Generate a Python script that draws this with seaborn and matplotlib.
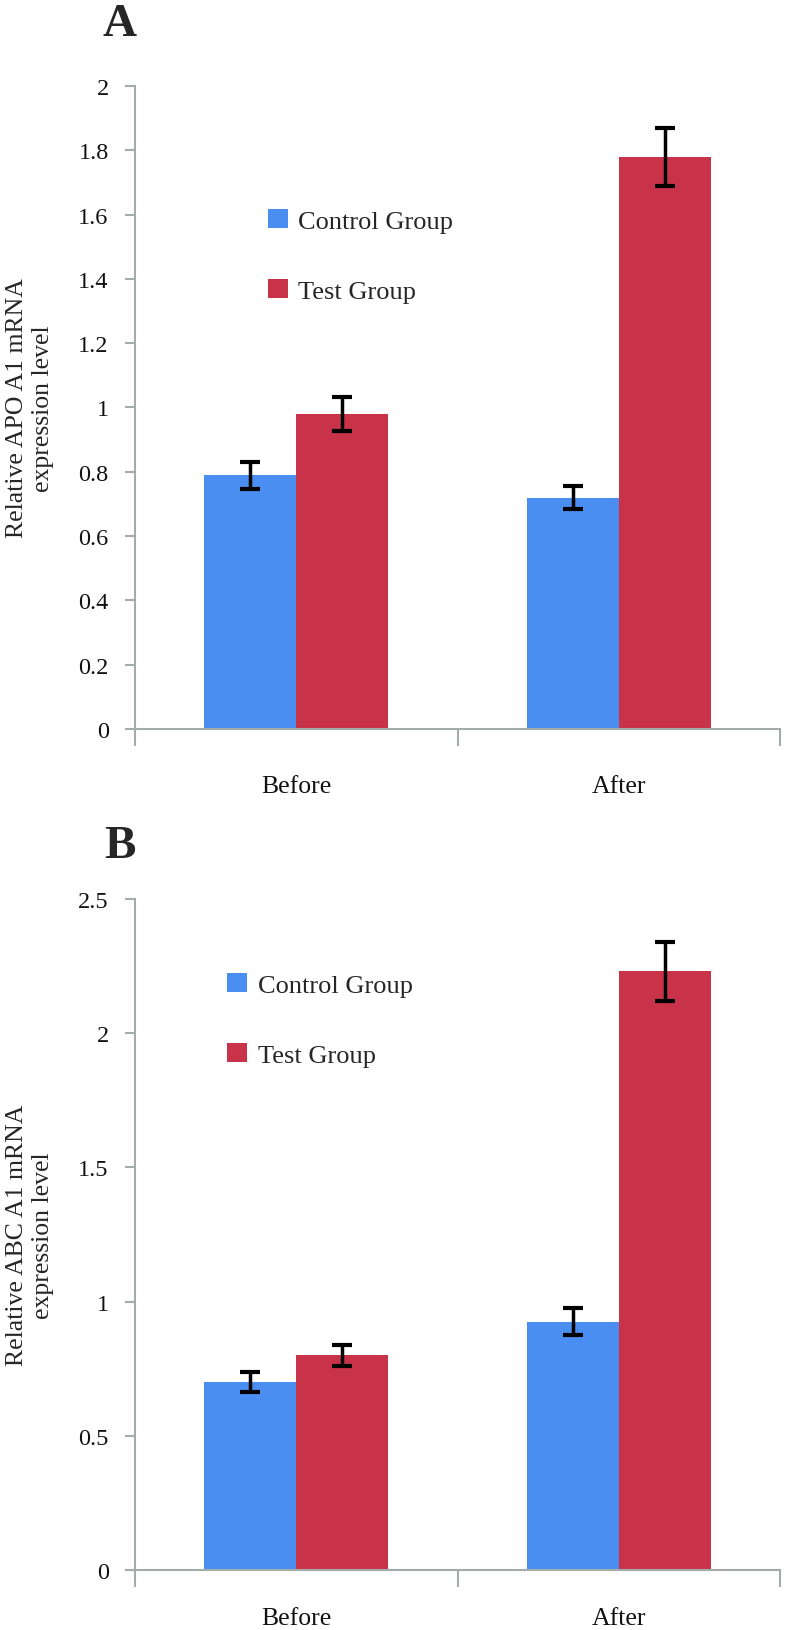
import pandas as pd
import numpy as np
import matplotlib
matplotlib.use('Agg')
import matplotlib.pyplot as plt
import seaborn as sns
from matplotlib.ticker import FixedLocator

# values
times = ['Before', 'After']
groups = ['Control Group', 'Test Group']

apo_control = [0.79, 0.72]
apo_test = [0.98, 1.78]
apo_control_err = [0.042, 0.037]
apo_test_err = [0.052, 0.09]

abc_control = [0.70, 0.925]
abc_test = [0.80, 2.23]
abc_control_err = [0.037, 0.05]
abc_test_err = [0.04, 0.11]

sns.set_style('white')
plt.rcParams['font.family'] = ['Liberation Serif', 'DejaVu Serif']

colors = ['#4A8EF2', '#C8334A']
axis_grey = '#A3ABAB'


def make_frame(control, test):
    return pd.DataFrame({
        'Time': times * 2,
        'Group': [groups[0]] * 2 + [groups[1]] * 2,
        'Value': list(control) + list(test),
    })


def draw_panel(ax, control, test, control_err, test_err, ymax, ystep,
               ylabel, legend_anchor, label_pad, legend_gap):
    data = make_frame(control, test)
    sns.barplot(data=data, x='Time', y='Value', hue='Group', order=times,
                hue_order=groups, palette=colors, width=0.57, gap=0,
                errorbar=None, saturation=1, linewidth=0, ax=ax)

    # error bars at the bar centres seaborn placed
    for container, errs in zip(ax.containers, [control_err, test_err]):
        xs = [p.get_x() + p.get_width() / 2 for p in container]
        hs = [p.get_height() for p in container]
        ax.errorbar(xs, hs, yerr=errs, fmt='none', ecolor='black',
                    elinewidth=2.5, capsize=7, capthick=3, zorder=5)

    ax.set_xlim(-0.5, 1.5)
    ax.set_ylim(0, ymax)
    ticks = np.round(np.arange(0, ymax + ystep / 2, ystep), 2)
    ax.set_yticks(ticks)
    ax.set_yticklabels([f'{t:g}' for t in ticks])
    ax.xaxis.set_minor_locator(FixedLocator([-0.5, 0.5, 1.5]))

    sns.despine(ax=ax)
    for side in ['left', 'bottom']:
        ax.spines[side].set_color(axis_grey)
        ax.spines[side].set_linewidth(1.5)

    ax.tick_params(axis='y', which='major', left=True, direction='out',
                   length=7, width=1.5, color=axis_grey, pad=12,
                   labelsize=17.5, labelcolor='#111111')
    ax.tick_params(axis='x', which='major', bottom=False, length=0,
                   pad=label_pad, labelsize=18.5, labelcolor='#111111')
    ax.tick_params(axis='x', which='minor', bottom=True, direction='out',
                   length=12, width=1.5, color=axis_grey)

    ax.set_xlabel('')
    ax.set_ylabel(ylabel, fontsize=18.5, va='center', linespacing=1.2)
    ax.yaxis.set_label_coords(-0.163, 0.5)

    handles, labels = ax.get_legend_handles_labels()
    ax.legend(handles, labels, loc='center left', bbox_to_anchor=legend_anchor,
              frameon=False, fontsize=19, handlelength=0.75,
              handleheight=0.75, handletextpad=0.4, labelspacing=legend_gap,
              borderpad=0, borderaxespad=0)


fig = plt.figure(figsize=(8.1, 16.31), dpi=100)
ax_a = fig.add_axes([0.1667, 0.5524, 0.7963, 0.3943])
ax_b = fig.add_axes([0.1667, 0.0368, 0.7963, 0.4114])

draw_panel(ax_a, apo_control, apo_test, apo_control_err, apo_test_err,
           2.0, 0.2, 'Relative APO A1 mRNA\nexpression level',
           (0.206, 0.736), 33, 1.75)
draw_panel(ax_b, abc_control, abc_test, abc_control_err, abc_test_err,
           2.5, 0.5, 'Relative ABC A1 mRNA\nexpression level',
           (0.143, 0.820), 27, 1.75)

fig.text(120 / 810, 1 - 25 / 1631, 'A', fontsize=34, fontweight='bold',
         ha='center', va='center')
fig.text(120 / 810, 1 - 847 / 1631, 'B', fontsize=34, fontweight='bold',
         ha='center', va='center')

fig.savefig('out.png', dpi=100)
plt.close(fig)
